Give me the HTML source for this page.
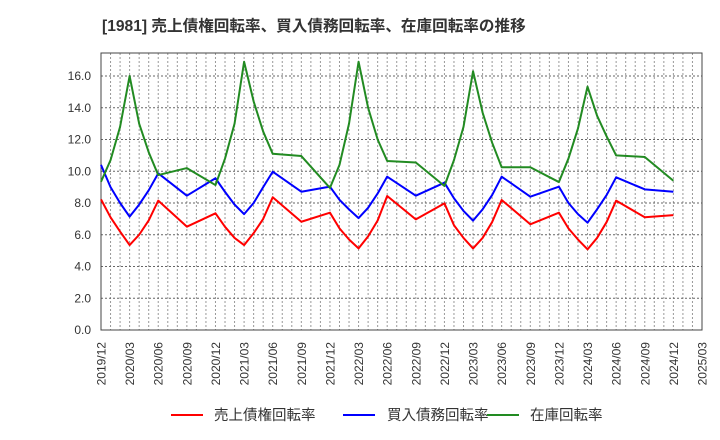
<!DOCTYPE html>
<html><head><meta charset="utf-8"><style>
body{margin:0;background:#fff;}
svg{display:block;font-family:"Liberation Sans","Noto Sans CJK JP",sans-serif;}
</style></head><body>
<svg id="chart" width="720" height="440">
<text x="102" y="31" font-size="15.6" font-weight="bold" fill="#333">[1981]  売上債権回転率、買入債務回転率、在庫回転率の推移</text>
<g id="grid"></g><g id="axes"></g><g id="series"></g>
<g>
<line x1="171" y1="415" x2="203" y2="415" stroke="#ff0000" stroke-width="2"/>
<text x="214" y="420" font-size="14.5" fill="#333">売上債権回転率</text>
<line x1="343" y1="415" x2="375" y2="415" stroke="#0000ff" stroke-width="2"/>
<text x="387" y="420" font-size="14.5" fill="#333">買入債務回転率</text>
<line x1="487" y1="415" x2="519" y2="415" stroke="#228b22" stroke-width="2"/>
<text x="530" y="420" font-size="14.5" fill="#333">在庫回転率</text>
</g>
</svg>
<script>
const xTickLabels=["2019/12","2020/03","2020/06","2020/09","2020/12","2021/03","2021/06","2021/09","2021/12","2022/03","2022/06","2022/09","2022/12","2023/03","2023/06","2023/09","2023/12","2024/03","2024/06","2024/09","2024/12","2025/03"];
const yTicks=[0,2,4,6,8,10,12,14,16];
const months=[0,1,2,3,4,5,6,9,12,13,14,15,16,17,18,21,24,25,26,27,28,29,30,33,36,37,38,39,40,41,42,45,48,49,50,51,52,53,54,57,60];
const receivables=[8.23,7.1,6.2,5.35,6.0,6.9,8.15,6.51,7.35,6.5,5.8,5.35,6.1,7.0,8.36,6.82,7.39,6.4,5.7,5.14,5.9,6.9,8.44,6.97,7.98,6.6,5.8,5.14,5.8,6.8,8.19,6.66,7.39,6.4,5.7,5.08,5.8,6.8,8.15,7.1,7.24];
const payables=[10.4,9.0,8.0,7.14,7.9,8.8,9.87,8.46,9.56,8.7,7.9,7.3,8.0,9.0,9.97,8.71,9.03,8.2,7.6,7.05,7.7,8.6,9.66,8.46,9.28,8.3,7.5,6.89,7.6,8.5,9.66,8.4,9.03,8.0,7.3,6.76,7.6,8.5,9.62,8.86,8.71];
const inventory=[9.34,10.7,12.8,16.0,13.0,11.2,9.76,10.2,9.13,10.8,13.0,16.9,14.4,12.5,11.1,10.96,8.95,10.4,13.0,16.9,14.0,12.0,10.65,10.55,9.07,10.7,12.8,16.3,13.7,11.8,10.25,10.25,9.32,10.8,12.7,15.33,13.5,12.2,11.0,10.9,9.4];
const L=101,R=702,T=53,B=330,YMAX=17.45,NM=63;
const X=m=>L+(R-L)*m/NM, Y=v=>B-(B-T)*v/YMAX;
const NS="http://www.w3.org/2000/svg";
function mk(tag,parent,attrs){const e=document.createElementNS(NS,tag);for(const k in attrs)e.setAttribute(k,attrs[k]);parent.appendChild(e);return e;}
const grid=document.getElementById('grid'),axes=document.getElementById('axes'),ser=document.getElementById('series');
for(let m=1;m<NM;m++){const g=mk('line',grid,{x1:X(m),x2:X(m),y1:T,y2:B,stroke:'#999','stroke-dasharray':'2,2','stroke-width':1});

}
yTicks.forEach(v=>{if(v>0){const g=mk('line',grid,{x1:L,x2:R,y1:Y(v),y2:Y(v),stroke:'#666','stroke-dasharray':'2,2','stroke-width':1});

}
const t=mk('text',axes,{x:91,y:Y(v)+4,'text-anchor':'end','font-size':12,fill:'#333'});t.textContent=v.toFixed(1);

});
xTickLabels.forEach((s,i)=>{const x=X(i*3);const t=mk('text',axes,{x:0,y:0,transform:`translate(${x+4.5},342) rotate(-90)`,'text-anchor':'end','font-size':12,fill:'#333'});t.textContent=s;

});
const fr=mk('rect',axes,{x:L,y:T,width:R-L,height:B-T,fill:'none',stroke:'#444','stroke-width':1});


[[receivables,'#ff0000','receivables-line'],[payables,'#0000ff','payables-line'],[inventory,'#228b22','inventory-line']].forEach(([d,c,n])=>{
const p=mk('polyline',ser,{points:d.map((v,i)=>X(months[i])+','+Y(v)).join(' '),fill:'none',stroke:c,'stroke-width':2,'stroke-linejoin':'round'});

});
</script>
</body></html>
